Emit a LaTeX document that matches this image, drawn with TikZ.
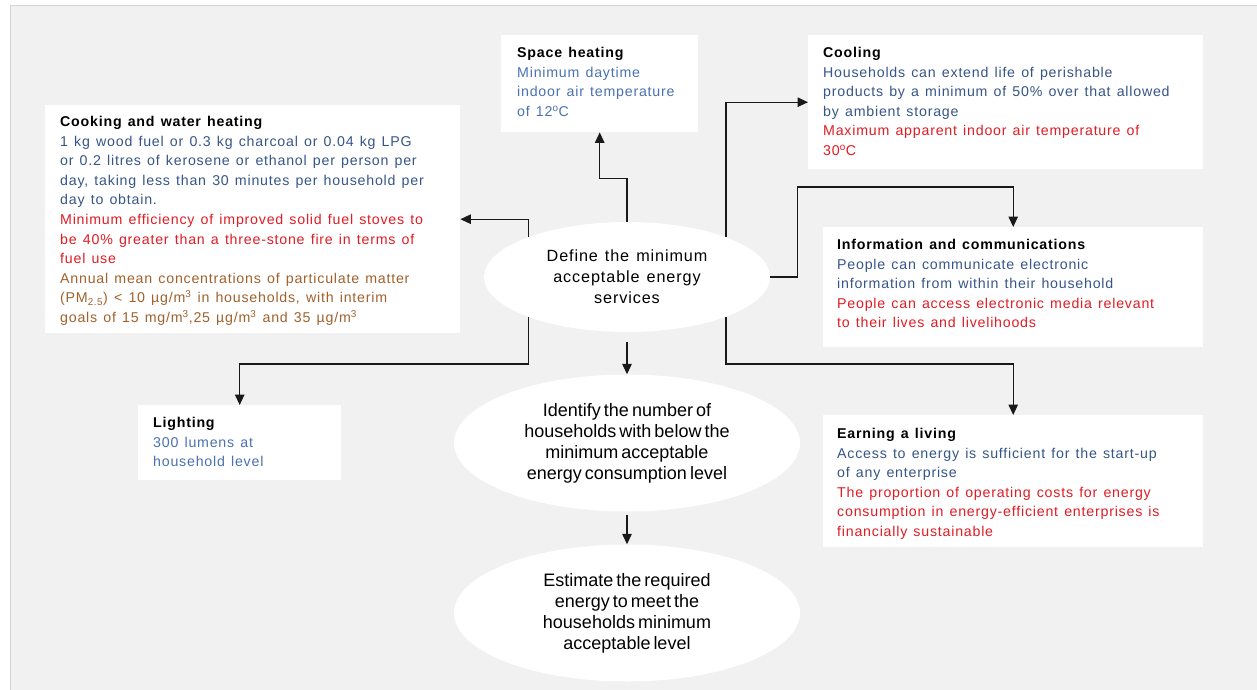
\documentclass[tikz,border=0pt]{standalone}
\usepackage{fontspec}
\setmainfont{Liberation Sans}
\newfontfamily\boxfont{Liberation Sans}[LetterSpace=5.5,WordSpace=1.3]
\newfontfamily\condfont{Liberation Sans}[WordSpace=0.6]
\usetikzlibrary{arrows.meta,calc,shapes.geometric}
\definecolor{panel}{RGB}{241,241,241}
\definecolor{rim}{RGB}{212,212,212}
\definecolor{bluetxt}{RGB}{55,86,136}
\definecolor{ltblue}{RGB}{74,114,176}
\definecolor{redtxt}{RGB}{224,28,36}
\definecolor{browntxt}{RGB}{160,98,45}
\definecolor{linec}{RGB}{25,25,25}
\tikzset{
  whitebox/.style={fill=white, draw=none, inner sep=0pt, anchor=north west},
  boxtext/.style={anchor=north west, inner sep=0pt, align=left,
    font=\boxfont\fontsize{14.2}{19.6}\selectfont},
  oval/.style={ellipse, fill=white, draw=none, inner sep=0pt, align=center},
  ovaltext/.style={font=\boxfont\fontsize{16.2}{21}\selectfont},
  ovaltextb/.style={font=\condfont\fontsize{18}{21}\selectfont},
  arr/.style={draw=linec, line width=1.3pt, -{Triangle[length=10.5pt,width=9.5pt]}},
}
\newcommand{\hd}[1]{{\bfseries #1}}
\begin{document}
\begin{tikzpicture}[x=1pt,y=-1pt]
\useasboundingbox (0,0) rectangle (1257,690);
\fill[white] (0,0) rectangle (1257,690);
\fill[panel] (10,5) rectangle (1257,690);
\draw[rim, line width=1.2pt] (10.6,690) -- (10.6,5.6) -- (1257,5.6);

% boxes
\node[whitebox, minimum width=415pt, minimum height=228pt] (ck) at (45,105) {};
\node[whitebox, minimum width=197pt, minimum height=97pt] (sh) at (501,35) {};
\node[whitebox, minimum width=395pt, minimum height=134pt] (co) at (808,35) {};
\node[whitebox, minimum width=380pt, minimum height=120pt] (ic) at (823,227) {};
\node[whitebox, minimum width=380pt, minimum height=132pt] (ea) at (823,415) {};
\node[whitebox, minimum width=203pt, minimum height=75pt] (li) at (138,405) {};

% texts
\node[boxtext] (ckt) at ($(ck.north west)+(15,11)$) {\hd{Cooking and water heating}\\
\color{bluetxt}1 kg  wood fuel or 0.3 kg charcoal or 0.04 kg LPG\\
\color{bluetxt}or 0.2 litres of kerosene or ethanol per person per\\
\color{bluetxt}day, taking less than 30 minutes per household per\\
\color{bluetxt}day to obtain.\\
\color{redtxt}Minimum  efficiency of improved solid fuel stoves to\\
\color{redtxt}be 40\% greater than a three-stone fire in terms of\\
\color{redtxt}fuel use\\
\color{browntxt}Annual mean concentrations of particulate matter\\
\color{browntxt}(PM\textsubscript{2.5}) < 10 µg/m\textsuperscript{3} in households, with interim\\
\color{browntxt}goals of 15 mg/m\textsuperscript{3},25 µg/m\textsuperscript{3} and 35 µg/m\textsuperscript{3}};

\node[boxtext] (sht) at ($(sh.north west)+(16,12)$) {\hd{Space heating}\\
\color{ltblue}Minimum  daytime\\
\color{ltblue}indoor air temperature\\
\color{ltblue}of 12\textsuperscript{o}C};

\node[boxtext] (cot) at ($(co.north west)+(15,12)$) {\hd{Cooling}\\
\color{bluetxt}Households can extend life of perishable\\
\color{bluetxt}products by a minimum of 50\% over that allowed\\
\color{bluetxt}by ambient storage\\
\color{redtxt}Maximum apparent indoor air temperature of\\
\color{redtxt}30\textsuperscript{o}C};

\node[boxtext] (ict) at ($(ic.north west)+(14,12)$) {\hd{Information and communications}\\
\color{bluetxt}People can communicate electronic\\
\color{bluetxt}information from within their household\\
\color{redtxt}People can access electronic media relevant\\
\color{redtxt}to their lives and livelihoods};

\node[boxtext] (eat) at ($(ea.north west)+(14,13)$) {\hd{Earning a living}\\
\color{bluetxt}Access to energy is sufficient for the start-up\\
\color{bluetxt}of any enterprise\\
\color{redtxt}The proportion of operating costs for energy\\
\color{redtxt}consumption in energy-efficient enterprises is\\
\color{redtxt}financially sustainable};

\node[boxtext] (lit) at ($(li.north west)+(15,12)$) {\hd{Lighting}\\
\color{ltblue}300 lumens at\\
\color{ltblue}household level};

% ellipses
\node[oval, minimum width=286pt, minimum height=110pt, ovaltext] (e1) at (627,277)
  {Define the minimum\\acceptable energy\\services};
\node[oval, minimum width=346pt, minimum height=137pt, ovaltextb] (e2) at (627,443)
  {Identify the number of\\households with below the\\minimum acceptable\\energy consumption level};
\node[oval, minimum width=346pt, minimum height=137pt, ovaltextb] (e3) at (627,613)
  {Estimate the required\\energy to meet the\\households minimum\\acceptable level};

% connectors
\draw[arr] (e1.north) -- ([yshift=-46pt]sh.south -| e1.north) -| (sh.south);
\draw[arr] (e1.158) |- (ck.east);
\draw[arr] (e1.202) -- ([yshift=41pt]li.north -| e1.202) -| (li.north);
\draw[arr] (e1.22) |- (co.west);
\draw[arr] (e1.east) -- ++(27,0) |- ([yshift=40pt]ic.north) -- (ic.north);
\draw[arr] (e1.338) |- ([yshift=51pt]ea.north) -- (ea.north);
\draw[arr, shorten <=10pt] (e1.south) -- (e2.north);
\draw[arr, shorten <=3pt] (e2.south) -- (e3.north);
\end{tikzpicture}
\end{document}
